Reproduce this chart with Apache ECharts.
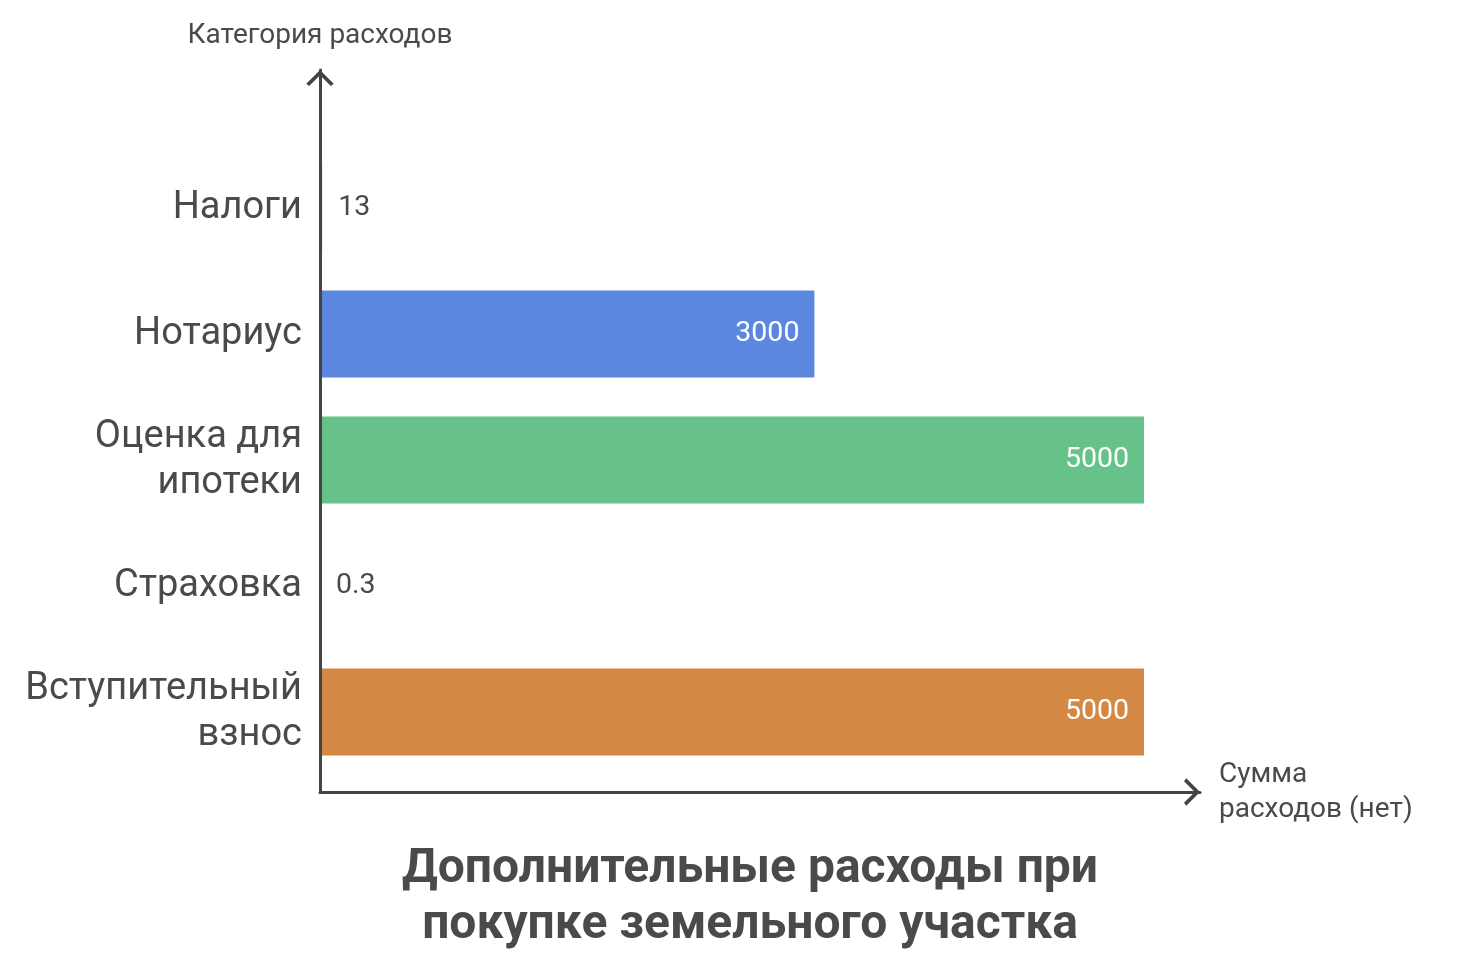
<!DOCTYPE html>
<html>
<head>
<meta charset="utf-8">
<title>Дополнительные расходы</title>
<script src="https://cdn.jsdelivr.net/npm/echarts@6/dist/echarts.min.js"></script>
<style>
  html, body { margin: 0; padding: 0; background: #fff; }
  #main { width: 1484px; height: 968px; }
</style>
</head>
<body>
<div id="main"></div>
<script>
// данные
const categories = ['Налоги', 'Нотариус', 'Оценка для\nипотеки', 'Страховка', 'Вступительный\nвзнос'];
const values = [13, 3000, 5000, 0.3, 5000];
const barColors = ['#8e6fd1', '#5b87e0', '#66c288', '#e0c05b', '#d38843'];

const textColor = '#4a4a4a';
const axisColor = '#444444';
// открытая стрелка-шеврон
const chevron = 'path://M0,12 L12,0 L24,12 L21.5,14 L12,4.5 L2.5,14 Z';

const chart = echarts.init(document.getElementById('main'));

const option = {
    backgroundColor: '#ffffff',
    animation: false,
    textStyle: { fontFamily: 'Roboto' },
    title: {
        text: 'Дополнительные расходы при\nпокупке земельного участка',
        left: 745,
        top: 837,
        textAlign: 'center',
        textStyle: {
            fontFamily: 'Roboto',
            fontSize: 48,
            fontWeight: 'bold',
            color: textColor,
            lineHeight: 56
        }
    },
    grid: [
        { left: 320, right: 340, top: 145, bottom: 193 },
        { left: 320, right: 284, top: 70, bottom: 176 }
    ],
    xAxis: [
        {
            gridIndex: 0,
            type: 'value',
            min: 0,
            max: 5000,
            show: false
        },
        {
            gridIndex: 1,
            type: 'value',
            min: 0,
            max: 1,
            z: 5,
            name: 'Сумма\nрасходов (нет)',
            nameLocation: 'end',
            nameGap: 19,
            nameTextStyle: {
                fontFamily: 'Roboto',
                fontSize: 28,
                color: textColor,
                align: 'left',
                verticalAlign: 'middle',
                lineHeight: 35
            },
            axisLine: {
                show: true,
                onZero: false,
                symbol: ['none', chevron],
                symbolSize: [28, 16],
                symbolOffset: [0, -8],
                lineStyle: { color: axisColor, width: 3 }
            },
            axisTick: { show: false },
            axisLabel: { show: false },
            splitLine: { show: false }
        }
    ],
    yAxis: [
        {
            gridIndex: 0,
            type: 'category',
            data: categories,
            inverse: true,
            axisLine: { show: false },
            axisTick: { show: false },
            axisLabel: {
                fontFamily: 'Roboto',
                fontSize: 38,
                color: textColor,
                margin: 18,
                lineHeight: 46,
                align: 'right',
                padding: [5, 0, 0, 0]
            }
        },
        {
            gridIndex: 1,
            type: 'value',
            min: 0,
            max: 1,
            z: 5,
            name: 'Категория расходов',
            nameLocation: 'end',
            nameGap: 20,
            nameTextStyle: {
                fontFamily: 'Roboto',
                fontSize: 28,
                color: textColor,
                align: 'center'
            },
            axisLine: {
                show: true,
                onZero: false,
                symbol: ['none', chevron],
                symbolSize: [28, 16],
                symbolOffset: [0, -8],
                lineStyle: { color: axisColor, width: 3 }
            },
            axisTick: { show: false },
            axisLabel: { show: false },
            splitLine: { show: false }
        }
    ],
    series: [
        {
            type: 'bar',
            xAxisIndex: 0,
            yAxisIndex: 0,
            z: 2,
            barCategoryGap: '31%',
            data: values.map((v, i) => {
                const small = v < 500;
                return {
                    value: v,
                    itemStyle: { color: barColors[i] },
                    label: {
                        show: true,
                        position: small ? 'right' : 'insideRight',
                        distance: small ? 16 : 15,
                        color: small ? textColor : '#ffffff',
                        fontFamily: 'Roboto',
                        fontSize: 28.5,
                        padding: [4, 0, 0, 0]
                    }
                };
            })
        }
    ]
};

chart.setOption(option);
</script>
</body>
</html>
